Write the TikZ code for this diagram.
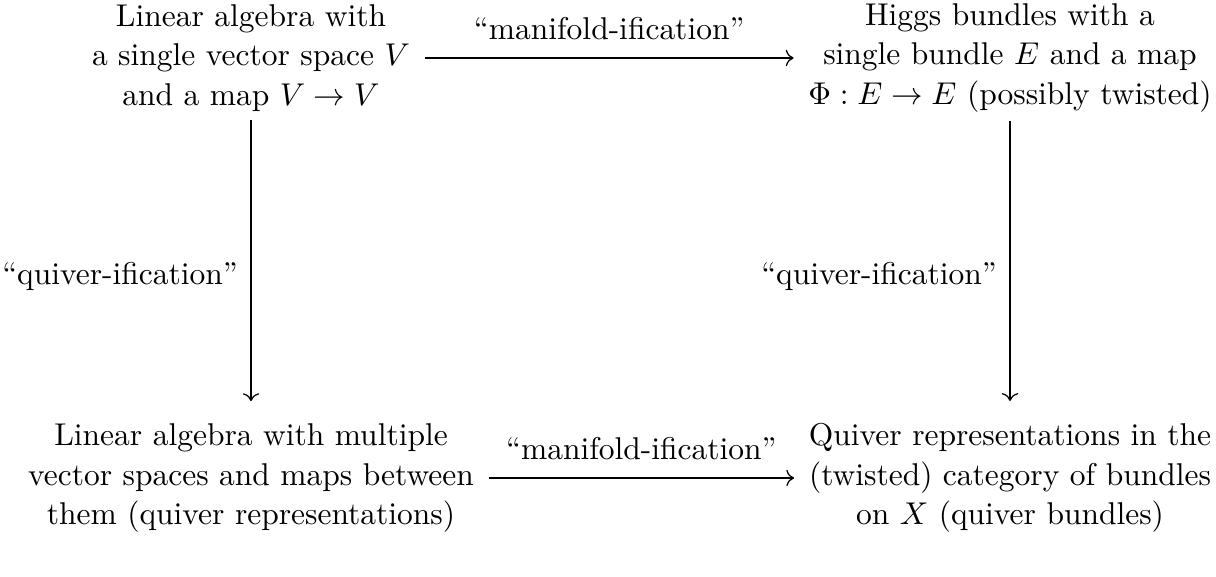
\documentclass[tikz,border=0pt]{standalone}
\usetikzlibrary{cd}
\begin{document}
\begin{tikzpicture}[x=0.3175pt,y=-0.3175pt,
  blk/.style={align=center,font=\fontsize{10}{12.5}\selectfont,inner xsep=4.5pt,inner ysep=4pt},
  arr/.style={-{cm to},line width=0.4pt},
  varr/.style={arr,shorten <=-1.3pt,shorten >=3pt},
  lbl/.style={font=\fontsize{10}{12}\selectfont}]
\useasboundingbox (0,0) rectangle (1216,576);
\node[blk] (TL) at (251,58) {Linear algebra with\\ a single vector space $V$\\ and a map $V\to V$};
\node[blk] (TR) at (1010,58) {Higgs bundles with a\\ single bundle $E$ and a map\\ $\Phi:E\to E$ (possibly twisted)};
\node[blk] (BL) at (251,478) {Linear algebra with multiple\\ vector spaces and maps between\\ them (quiver representations)};
\node[blk] (BR) at (1010,478) {Quiver representations in the\\ (twisted) category of bundles\\ on $X$ (quiver bundles)};
\draw[arr] (TL.east) -- node[lbl,above,inner sep=5.5pt] {``manifold-ification''} (TR.west);
\draw[arr] (BL.east) -- node[lbl,above,inner sep=5.5pt] {``manifold-ification''} (BR.west);
\draw[varr] (TL.south) -- node[lbl,left,inner sep=4pt,pos=0.53] {``quiver-ification''} (BL.north);
\draw[varr] (TR.south) -- node[lbl,left,inner sep=4pt,pos=0.53] {``quiver-ification''} (BR.north);
\end{tikzpicture}
\end{document}
